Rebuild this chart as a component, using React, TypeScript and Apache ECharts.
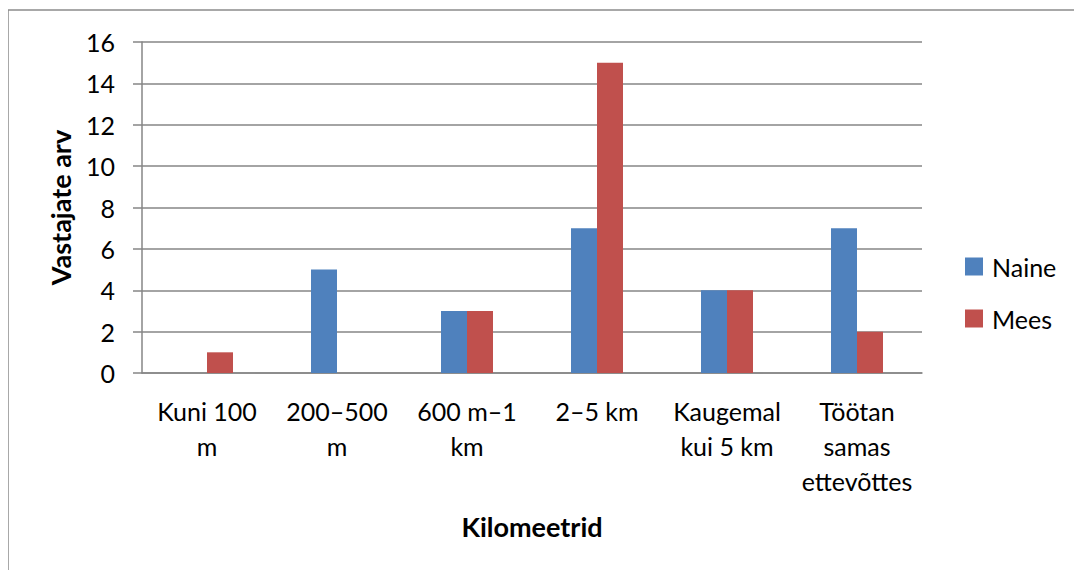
import React, { useEffect, useRef } from "react";
import * as echarts from "echarts";

const categories = [
  "Kuni 100\nm",
  "200–500\nm",
  "600 m–1\nkm",
  "2–5 km",
  "Kaugemal\nkui 5 km",
  "Töötan\nsamas\nettevõttes",
];
const naine = [0, 5, 3, 7, 4, 7];
const mees = [1, 0, 3, 15, 4, 2];
const seriesNames = ["Naine", "Mees"];
const yTitle = "Vastajate arv";
const xTitle = "Kilomeetrid";

const FONT = "Lato";

export default function App() {
  const ref = useRef<HTMLDivElement>(null);
  useEffect(() => {
    if (!ref.current) return;
    const chart = echarts.init(ref.current, undefined, { renderer: "svg" });
    chart.setOption({
      animation: false,
      textStyle: { fontFamily: FONT },
      graphic: [
        {
          type: "rect",
          shape: { x: 0, y: 2, width: 1200, height: 700 },
          style: { fill: "none", stroke: "#8c8c8c", lineWidth: 1.5 },
          silent: true,
        },
      ],
      grid: { left: 134, right: 152, top: 34, bottom: 197, containLabel: false },
      legend: {
        orient: "vertical",
        left: 952,
        top: 241,
        itemWidth: 18,
        itemHeight: 18,
        itemGap: 27,
        icon: "rect",
        textStyle: { fontSize: 25, color: "#000", fontFamily: FONT, padding: [0, 0, 0, 4] },
        data: seriesNames,
      },
      xAxis: {
        type: "category",
        data: categories,
        name: xTitle,
        nameLocation: "middle",
        nameGap: 140,
        nameTextStyle: { fontSize: 27, fontWeight: "bold", color: "#000", fontFamily: FONT },
        axisLine: { lineStyle: { color: "#868686", width: 1.5 } },
        axisTick: { show: false },
        axisLabel: {
          interval: 0,
          margin: 20,
          fontSize: 25,
          lineHeight: 35,
          color: "#000",
          verticalAlign: "top",
          fontFamily: FONT,
        },
      },
      yAxis: {
        type: "value",
        min: 0,
        max: 16,
        interval: 2,
        name: yTitle,
        nameLocation: "middle",
        nameGap: 68,
        nameTextStyle: { fontSize: 27, fontWeight: "bold", color: "#000", fontFamily: FONT },
        axisLine: { show: true, lineStyle: { color: "#868686", width: 1.5 } },
        axisTick: { show: true, inside: false, length: 9, lineStyle: { color: "#868686", width: 1.5 } },
        axisLabel: { fontSize: 25, color: "#000", margin: 27, fontFamily: FONT },
        splitLine: { lineStyle: { color: "#868686", width: 1.5 } },
      },
      series: [
        {
          name: seriesNames[0],
          type: "bar",
          data: naine,
          itemStyle: { color: "#4F81BD" },
          barGap: "0%",
          barCategoryGap: "60%",
        },
        {
          name: seriesNames[1],
          type: "bar",
          data: mees,
          itemStyle: { color: "#C0504D" },
          barGap: "0%",
          barCategoryGap: "60%",
        },
      ],
    });
    return () => chart.dispose();
  }, []);
  return <div ref={ref} style={{ width: 1066, height: 562 }} />;
}
